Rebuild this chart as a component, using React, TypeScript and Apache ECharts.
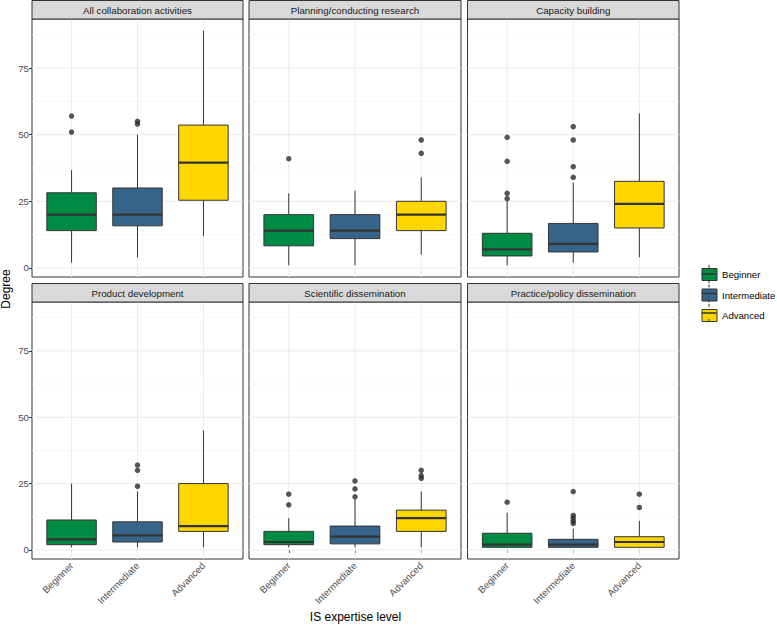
import React, { useEffect, useRef } from "react";
import * as echarts from "echarts";

const levels = ["Beginner", "Intermediate", "Advanced"];
const levelColors = ["#008B45", "#36648B", "#FFD700"];
const facets = [
  "All collaboration activities",
  "Planning/conducting research",
  "Capacity building",
  "Product development",
  "Scientific dissemination",
  "Practice/policy dissemination",
];

// [lower whisker, Q1, median, Q3, upper whisker] per level
const allCollabBoxes = [[2, 14, 20, 28.2, 36.7], [4, 15.8, 20, 30, 50], [12, 25.4, 39.5, 53.6, 89]];
const allCollabOutliers = [[51, 57], [54, 55], []];
const planningBoxes = [[1, 8.3, 14, 20, 28], [1, 11, 14, 20, 29], [5, 14, 20, 25, 34]];
const planningOutliers = [[41], [], [43, 48]];
const capacityBoxes = [[1, 4.5, 7, 13, 25], [2, 6, 9, 16.7, 32], [4, 15, 24, 32.5, 58]];
const capacityOutliers = [[26, 28, 40, 49], [34, 38, 48, 53], []];
const productBoxes = [[1, 2, 4, 11.3, 25], [1, 3, 5.5, 10.6, 22], [1, 7, 9, 25, 45]];
const productOutliers = [[], [24, 30, 32], []];
const scientificBoxes = [[1, 2, 3, 7, 12], [1, 2.3, 5, 9, 19], [1, 7, 12, 15, 22]];
const scientificOutliers = [[17, 21], [20, 23, 26], [27, 28, 30]];
const practiceBoxes = [[1, 1, 2, 6.3, 14], [1, 1, 2, 4, 8], [1, 1, 3, 5, 11]];
const practiceOutliers = [[18], [10, 11, 12, 13, 22], [16, 21]];

const yTicks = [0, 25, 50, 75];
const yMinorTicks = [12.5, 37.5, 62.5, 87.5];
const xTicks = [1, 2, 3];

const facetBoxes = [allCollabBoxes, planningBoxes, capacityBoxes, productBoxes, scientificBoxes, practiceBoxes];
const facetOutliers = [allCollabOutliers, planningOutliers, capacityOutliers, productOutliers, scientificOutliers, practiceOutliers];

const FONT = "'Liberation Sans', Arial, sans-serif";
const SMALL = 9.75;

export default function App() {
  const ref = useRef<HTMLDivElement>(null);
  useEffect(() => {
    if (!ref.current) return;
    const chart = echarts.init(ref.current, null, { renderer: "svg" });

    const colLeft = [32, 249, 467.5];
    const colWidth = [211, 212, 211.5];
    const rowTop = [19, 302];
    const rowHeight = [258, 257];
    const stripH = 18.5;

    const grids: any[] = [];
    const xAxes: any[] = [];
    const yAxes: any[] = [];
    const series: any[] = [];
    const graphics: any[] = [];

    facets.forEach((name, k) => {
      const col = k % 3;
      const row = Math.floor(k / 3);
      grids.push({
        left: colLeft[col],
        top: rowTop[row],
        width: colWidth[col],
        height: rowHeight[row],
        show: true,
        backgroundColor: "#ffffff",
        borderColor: "#333333",
        borderWidth: 1,
      });
      xAxes.push({
        type: "value",
        gridIndex: k,
        min: 0.4,
        max: 3.6,
        axisLine: { show: false },
        splitLine: { show: false },
        axisTick: {
          show: row === 1,
          customValues: xTicks,
          length: 3,
          lineStyle: { color: "#333333" },
        },
        axisLabel: {
          show: row === 1,
          customValues: xTicks,
          formatter: (v: number) => levels[Math.round(v) - 1] || "",
          rotate: 45,
          fontSize: SMALL,
          color: "#4D4D4D",
          fontFamily: FONT,
          margin: 5,
        },
      });
      yAxes.push({
        type: "value",
        gridIndex: k,
        min: -3.4,
        max: 93.4,
        axisLine: { show: false },
        splitLine: { show: false },
        axisTick: {
          show: col === 0,
          customValues: yTicks,
          length: 3,
          lineStyle: { color: "#333333" },
        },
        axisLabel: {
          show: col === 0,
          customValues: yTicks,
          fontSize: SMALL,
          color: "#4D4D4D",
          fontFamily: FONT,
          margin: 3,
        },
      });

      // grid lines
      const gridData: number[][] = [];
      yMinorTicks.forEach((v) => gridData.push([1, v, 1]));
      yTicks.forEach((v) => gridData.push([1, v, 0]));
      xTicks.forEach((v) => gridData.push([v, 0, 2]));
      series.push({
        type: "custom",
        name: "gridlines",
        xAxisIndex: k,
        yAxisIndex: k,
        silent: true,
        z: 1,
        data: gridData,
        renderItem: (params: any, api: any) => {
          const cs = params.coordSys;
          const kind = api.value(2);
          if (kind === 2) {
            const x = api.coord([api.value(0), 0])[0];
            return {
              type: "line",
              shape: { x1: x, y1: cs.y, x2: x, y2: cs.y + cs.height },
              style: { stroke: "#EBEBEB", lineWidth: 1 },
            };
          }
          const y = api.coord([1, api.value(1)])[1];
          return {
            type: "line",
            shape: { x1: cs.x, y1: y, x2: cs.x + cs.width, y2: y },
            style: { stroke: kind === 0 ? "#EBEBEB" : "#F3F3F3", lineWidth: kind === 0 ? 1 : 0.6 },
          };
        },
      });

      levels.forEach((lv, i) => {
        const b = facetBoxes[k][i];
        series.push({
          type: "custom",
          name: lv,
          xAxisIndex: k,
          yAxisIndex: k,
          z: 3,
          itemStyle: { color: levelColors[i], borderColor: "#333333", borderWidth: 1 },
          encode: { x: 0, y: [1, 2, 3, 4, 5] },
          data: [[i + 1, ...b]],
          renderItem: (params: any, api: any) => {
            const x = api.value(0);
            const pLow = api.coord([x, api.value(1)]);
            const pQ1 = api.coord([x, api.value(2)]);
            const pMed = api.coord([x, api.value(3)]);
            const pQ3 = api.coord([x, api.value(4)]);
            const pHigh = api.coord([x, api.value(5)]);
            const cx = pMed[0];
            const hw = api.size([0.75, 0])[0] / 2;
            return {
              type: "group",
              children: [
                {
                  type: "line",
                  shape: { x1: cx, y1: pLow[1], x2: cx, y2: pQ1[1] },
                  style: { stroke: "#333333", lineWidth: 1 },
                },
                {
                  type: "line",
                  shape: { x1: cx, y1: pQ3[1], x2: cx, y2: pHigh[1] },
                  style: { stroke: "#333333", lineWidth: 1 },
                },
                {
                  type: "rect",
                  shape: { x: cx - hw, y: pQ3[1], width: hw * 2, height: pQ1[1] - pQ3[1] },
                  style: { fill: levelColors[i], stroke: "#333333", lineWidth: 1 },
                },
                {
                  type: "line",
                  shape: { x1: cx - hw, y1: pMed[1], x2: cx + hw, y2: pMed[1] },
                  style: { stroke: "#333333", lineWidth: 2.2 },
                },
              ],
            };
          },
        });
        const outs = facetOutliers[k][i];
        if (outs.length) {
          series.push({
            type: "scatter",
            name: "outliers",
            xAxisIndex: k,
            yAxisIndex: k,
            z: 4,
            symbolSize: 5.5,
            itemStyle: { color: "#2B2B2B" },
            data: outs.map((v) => [i + 1, v]),
          });
        }
      });

      // strip
      const sTop = rowTop[row] - stripH;
      graphics.push({
        type: "rect",
        shape: { x: colLeft[col], y: sTop, width: colWidth[col], height: stripH },
        style: { fill: "#D9D9D9", stroke: "#333333", lineWidth: 1 },
        z: 10,
      });
      graphics.push({
        type: "text",
        x: colLeft[col] + colWidth[col] / 2,
        y: sTop + stripH / 2 + 0.5,
        style: {
          text: name,
          fill: "#1A1A1A",
          fontSize: SMALL,
          fontFamily: FONT,
          align: "center",
          verticalAlign: "middle",
        },
        z: 11,
      });
    });

    // axis titles
    graphics.push({
      type: "text",
      x: 6,
      y: 289,
      rotation: Math.PI / 2,
      style: {
        text: "Degree",
        fill: "#000000",
        fontSize: 12,
        fontFamily: FONT,
        align: "center",
        verticalAlign: "middle",
      },
    });
    graphics.push({
      type: "text",
      x: 355.5,
      y: 617,
      style: {
        text: "IS expertise level",
        fill: "#000000",
        fontSize: 12,
        fontFamily: FONT,
        align: "center",
        verticalAlign: "middle",
      },
    });

    // legend key decorations (whiskers + median)
    const legendTop = 268;
    const legendStep = 19.5;
    const keyX = 701.5;
    const keyW = 15;
    const keyH = 12;
    levels.forEach((_, i) => {
      const cy = legendTop + keyH / 2 + legendStep * i;
      const cx = keyX + keyW / 2;
      graphics.push({
        type: "line",
        shape: { x1: cx, y1: cy - keyH / 2 - 3, x2: cx, y2: cy - keyH / 2 },
        style: { stroke: "#333333", lineWidth: 1 },
        z: 100,
      });
      graphics.push({
        type: "line",
        shape: { x1: cx, y1: cy + keyH / 2, x2: cx, y2: cy + keyH / 2 + 3 },
        style: { stroke: "#333333", lineWidth: 1 },
        z: 100,
      });
      graphics.push({
        type: "line",
        shape: { x1: keyX, y1: cy, x2: keyX + keyW, y2: cy },
        style: { stroke: "#333333", lineWidth: 1.5 },
        z: 100,
      });
    });

    chart.setOption({
      animation: false,
      backgroundColor: "#ffffff",
      textStyle: { fontFamily: FONT },
      grid: grids,
      xAxis: xAxes,
      yAxis: yAxes,
      series,
      legend: {
        orient: "vertical",
        left: keyX,
        top: legendTop,
        padding: 0,
        itemWidth: keyW,
        itemHeight: keyH,
        itemGap: legendStep - keyH,
        selectedMode: false,
        textStyle: { fontSize: 9.6, color: "#000000", fontFamily: FONT, lineHeight: keyH },
        data: levels.map((lv, i) => ({
          name: lv,
          icon: "rect",
          itemStyle: { color: levelColors[i], borderColor: "#333333", borderWidth: 1 },
        })),
      },
      graphic: graphics,
    });

    return () => chart.dispose();
  }, []);

  return (
    <div
      ref={ref}
      style={{ position: "absolute", left: 0, top: 0, width: 777, height: 625 }}
    />
  );
}
